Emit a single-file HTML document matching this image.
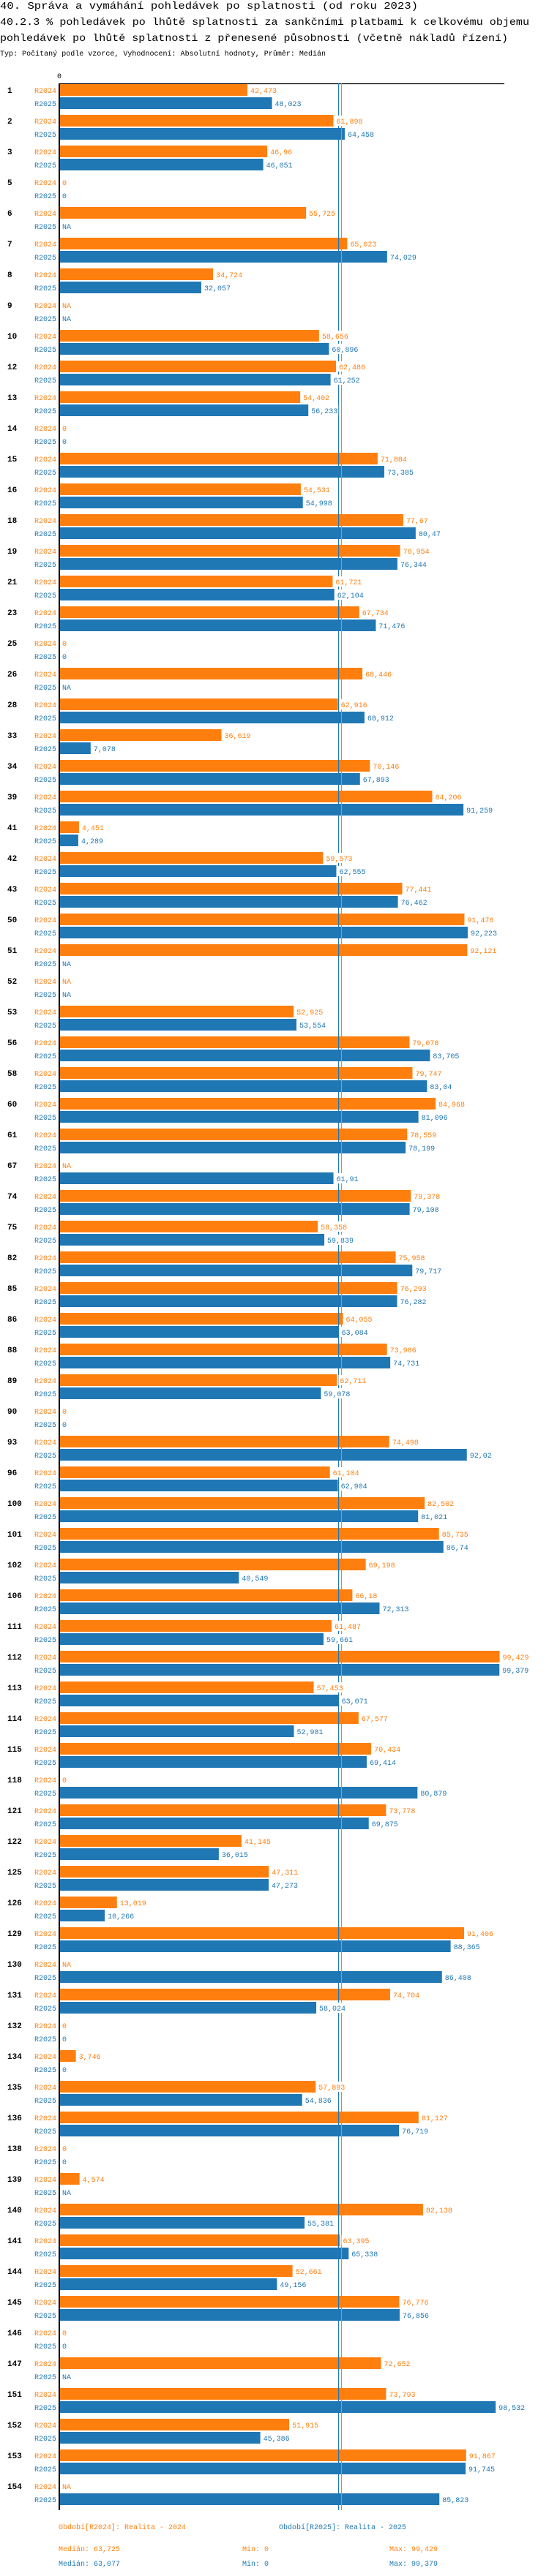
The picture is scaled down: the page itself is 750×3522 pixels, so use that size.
<!DOCTYPE html>
<html><head><meta charset="utf-8">
<style>
html,body{margin:0;padding:0;background:#fff;}
svg{display:block;}
text{font-family:"Liberation Mono","DejaVu Sans Mono",monospace;}
</style></head>
<body>
<svg id="chart" xmlns="http://www.w3.org/2000/svg" width="750" height="3522" viewBox="0 0 750 3522">
  <text x="0" y="12" font-size="14" textLength="571" lengthAdjust="spacingAndGlyphs" fill="#000">40. Správa a vymáhání pohledávek po splatnosti (od roku 2023)</text>
  <text x="0" y="34" font-size="14" textLength="723" lengthAdjust="spacingAndGlyphs" fill="#000">40.2.3 % pohledávek po lhůtě splatnosti za sankčními platbami k celkovému objemu</text>
  <text x="0" y="56" font-size="14" textLength="694" lengthAdjust="spacingAndGlyphs" fill="#000">pohledávek po lhůtě splatnosti z přenesené působnosti (včetně nákladů řízení)</text>
  <text x="0" y="76" font-size="10" textLength="445" lengthAdjust="spacingAndGlyphs" fill="#000">Typ: Počítaný podle vzorce, Vyhodnocení: Absolutní hodnoty, Průměr: Medián</text>
  <text x="81" y="107" font-size="10" text-anchor="middle" fill="#000">0</text>
  <line x1="81" y1="114.5" x2="689" y2="114.5" stroke="#000" stroke-width="1.2"/>
  <g id="marks"></g>
  <g id="medians"></g>
  <g id="labels"></g>
  <line x1="81" y1="114" x2="81" y2="3432" stroke="#000" stroke-width="2"/>
  <text x="80" y="3458" font-size="10" fill="#ff7f0e">Období[R2024]: Realita - 2024</text>
  <text x="381" y="3458" font-size="10" fill="#1f77b4">Období[R2025]: Realita - 2025</text>
  <text x="80" y="3488" font-size="10" fill="#ff7f0e">Medián: 63,725</text>
  <text x="331" y="3488" font-size="10" fill="#ff7f0e">Min: 0</text>
  <text x="532" y="3488" font-size="10" fill="#ff7f0e">Max: 99,429</text>
  <text x="80" y="3508" font-size="10" fill="#1f77b4">Medián: 63,077</text>
  <text x="331" y="3508" font-size="10" fill="#1f77b4">Min: 0</text>
  <text x="532" y="3508" font-size="10" fill="#1f77b4">Max: 99,379</text>
</svg>
<script>
const categories = [1,2,3,5,6,7,8,9,10,12,13,14,15,16,18,19,21,23,25,26,28,33,34,39,41,42,43,50,51,52,53,56,58,60,61,67,74,75,82,85,86,88,89,90,93,96,100,101,102,106,111,112,113,114,115,118,121,122,125,126,129,130,131,132,134,135,136,138,139,140,141,144,145,146,147,151,152,153,154];
const values2024 = [42.473,61.898,46.96,0,55.725,65.023,34.724,null,58.656,62.486,54.402,0,71.884,54.531,77.67,76.954,61.721,67.734,0,68.446,62.916,36.619,70.146,84.206,4.451,59.573,77.441,91.476,92.121,null,52.925,79.078,79.747,84.968,78.559,null,79.378,58.358,75.958,76.293,64.055,73.986,62.711,0,74.498,61.104,82.502,85.735,69.198,66.18,61.487,99.429,57.453,67.577,70.434,0,73.778,41.145,47.311,13.019,91.406,null,74.704,0,3.746,57.893,81.127,0,4.574,82.138,63.395,52.661,76.776,0,72.652,73.793,51.915,91.867,null];
const values2025 = [48.023,64.458,46.051,0,null,74.029,32.057,null,60.896,61.252,56.233,0,73.385,54.998,80.47,76.344,62.104,71.476,0,null,68.912,7.078,67.893,91.259,4.289,62.555,76.462,92.223,null,null,53.554,83.705,83.04,81.096,78.199,61.91,79.108,59.839,79.717,76.282,63.084,74.731,59.078,0,92.02,62.904,81.021,86.74,40.549,72.313,59.661,99.379,63.071,52.981,69.414,80.879,69.875,36.015,47.273,10.266,88.365,86.408,58.024,0,0,54.836,76.719,0,null,55.381,65.338,49.156,76.856,0,null,98.532,45.386,91.745,85.823];
const seriesNames = ["R2024","R2025"];
const medians = [63.725,63.077];

const NS = "http://www.w3.org/2000/svg";
const X0 = 81, PX = 6.05, ROW0 = 123, PITCH = 42;
const COLORS = ["#ff7f0e","#1f77b4"];
function xScale(v){ return X0 + v*PX; }
function rowY(i){ return ROW0 + i*PITCH; }
function fmt(v){ return v===null ? "NA" : String(v).replace(".", ","); }
function mk(tag, attrs){ const e=document.createElementNS(NS,tag); for(const k in attrs) e.setAttribute(k, attrs[k]); return e; }

const marks = document.getElementById("marks");
const labels = document.getElementById("labels");
const medG = document.getElementById("medians");

medians.forEach((m, s) => {
  const ln = mk("line", {x1:xScale(m), x2:xScale(m), y1:114, y2:3432, stroke:COLORS[s], "stroke-width":1.2});
  
  
  medG.appendChild(ln);
});

categories.forEach((c, i) => {
  const cy = rowY(i);
  const num = mk("text", {x:10, y:cy+4, "font-size":11, "font-weight":"bold", fill:"#000"});
  num.textContent = String(c);
  
  
  labels.appendChild(num);
  [values2024[i], values2025[i]].forEach((v, s) => {
    const yc = cy + s*18;
    const sl = mk("text", {x:77, y:yc+4, "font-size":10, "text-anchor":"end", fill:COLORS[s]});
    sl.textContent = seriesNames[s];
    
    
    labels.appendChild(sl);
    let endX = X0;
    if (v !== null && v > 0) {
      const r = mk("rect", {x:X0, y:yc-8, width:xScale(v)-X0, height:16, fill:COLORS[s]});
      
      
      marks.appendChild(r);
      endX = xScale(v);
    }
    const t = fmt(v);
    const bg = mk("rect", {x:endX+2, y:yc-7, width:t.length*6+3, height:14, fill:"#fff"});
    
    
    labels.appendChild(bg);
    const vl = mk("text", {x:endX+4, y:yc+4, "font-size":10, fill:COLORS[s]});
    vl.textContent = t;
    
    
    labels.appendChild(vl);
  });
});
</script>
</body></html>
